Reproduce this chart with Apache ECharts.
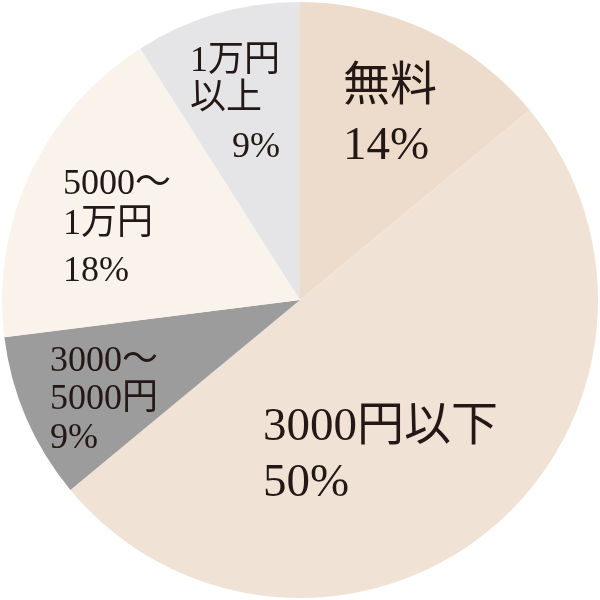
<!DOCTYPE html>
<html><head><meta charset="utf-8">
<script src="https://cdn.jsdelivr.net/npm/echarts@6/dist/echarts.min.js"></script>
<style>html,body{margin:0;padding:0;background:#fff}#c{width:600px;height:600px}</style>
</head><body><div id="c"></div>
<script>
const categories = ['無料', '3000円以下', '3000～5000円', '5000～1万円', '1万円以上'];
const values = [14, 50, 9, 18, 9];
const labelLines = [['無料'], ['3000円以下'], ['3000～', '5000円'], ['5000～', '1万円'], ['1万円', '以上']];
const colors = ['#eddccb', '#f0e3d6', '#9c9c9c', '#faf3ec', '#e5e5e7'];
// label layout/style settings kept separate from the data
const labelPos = [[343, 59], [263, 400], [50, 343], [63, 165], [190, 43]];
const fontSizes = [47, 47, 36, 36, 36];
const lineHeights = [58, 56, 38, 40, 38];
const pctLineHeights = [60, 56, 40, 54, 58];
const rightPct = [false, false, false, false, true];

const serif = "'Liberation Serif','Noto Sans CJK JP',serif";
function richFor(i) {
  return {
    t: {fontSize: fontSizes[i], lineHeight: lineHeights[i], fontFamily: serif, color: '#231815'},
    p: {fontSize: fontSizes[i], lineHeight: pctLineHeights[i], fontFamily: serif, color: '#231815', align: rightPct[i] ? 'right' : 'left'}
  };
}
const data = categories.map((n, i) => ({
  name: n, value: values[i],
  itemStyle: {color: colors[i]},
  label: {
    formatter: labelLines[i].map(s => '{t|' + s + '}').join('\n') + '\n{p|' + values[i] + '%}',
    rich: richFor(i)
  }
}));
const chart = echarts.init(document.getElementById('c'));
chart.setOption({
  animation: false,
  series: [{
    type: 'pie',
    center: ['50%', '50%'],
    radius: 298,
    startAngle: 90,
    clockwise: true,
    itemStyle: {borderWidth: 0},
    label: {show: true, position: 'inside'},
    labelLine: {show: false},
    labelLayout: function (p) {
      const pos = labelPos[p.dataIndex];
      return {x: pos[0], y: pos[1], align: 'left', verticalAlign: 'top'};
    },
    emphasis: {disabled: true},
    data: data
  }]
});
</script></body></html>
